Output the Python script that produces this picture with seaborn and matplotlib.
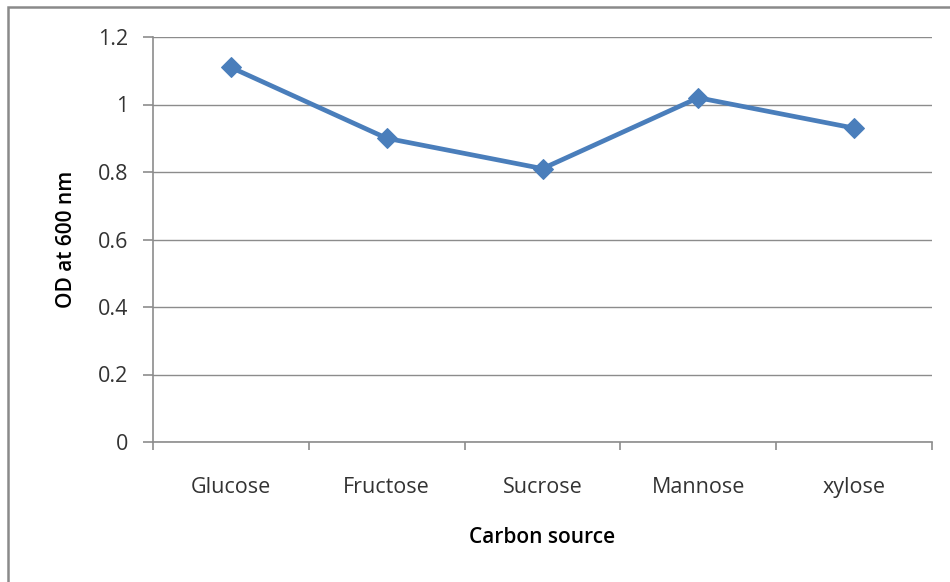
import matplotlib
matplotlib.use("Agg")
import matplotlib.pyplot as plt
import seaborn as sns
import pandas as pd
from matplotlib.patches import Rectangle
from matplotlib.ticker import FixedLocator

# Growth of cultures on different carbon sources
sources = ["Glucose", "Fructose", "Sucrose", "Mannose", "xylose"]
od600 = [1.11, 0.90, 0.81, 1.02, 0.93]
y_ticks = [0, 0.2, 0.4, 0.6, 0.8, 1.0, 1.2]
y_tick_labels = ["0", "0.2", "0.4", "0.6", "0.8", "1", "1.2"]

df = pd.DataFrame({"source": sources, "od": od600})

sns.set_theme(style="white")
plt.rcParams["font.family"] = ["Open Sans", "DejaVu Sans"]

fig = plt.figure(figsize=(9.5, 5.82), dpi=100)
ax = fig.add_axes([153 / 950, 1 - 442 / 582, (932 - 153) / 950, (442 - 37) / 582])

sns.lineplot(data=df, x="source", y="od", ax=ax, sort=False,
             color="#4A7EBB", linewidth=3.4, marker="D", markersize=10,
             markeredgecolor="#4A7EBB")

ax.set_xlim(-0.5, len(sources) - 0.5)
ax.set_ylim(0, 1.2)
ax.set_yticks(y_ticks)
ax.set_yticklabels(y_tick_labels)
ax.grid(axis="y", color="#8c8c8c", linewidth=1.0)
ax.set_axisbelow(True)

for side in ["top", "right"]:
    ax.spines[side].set_visible(False)
for side in ["left", "bottom"]:
    ax.spines[side].set_color("#8c8c8c")
    ax.spines[side].set_linewidth(1.2)

# category boundary tick marks on the x axis
ax.xaxis.set_minor_locator(FixedLocator([i - 0.5 for i in range(len(sources) + 1)]))
ax.tick_params(axis="x", which="minor", bottom=True, length=6, color="#8c8c8c", width=1.2)
ax.tick_params(axis="x", which="major", bottom=False, length=0, pad=25,
               labelsize=15.5, labelcolor="#333333")
ax.tick_params(axis="y", left=True, length=7, color="#8c8c8c", width=1.2,
               pad=11, labelsize=15.5, labelcolor="#333333")

ax.set_xlabel("Carbon source", fontsize=15, fontweight="semibold", labelpad=21, color="black")
ax.set_ylabel("OD at 600 nm", fontsize=15, fontweight="semibold", labelpad=15, color="black")

# chart frame
fig.patches.append(Rectangle((8 / 950, -0.05), 1.2, 1.05 - 7 / 582,
                             transform=fig.transFigure, fill=False,
                             edgecolor="#8a8a8a", linewidth=1.8))

fig.savefig("out.png", dpi=100)
